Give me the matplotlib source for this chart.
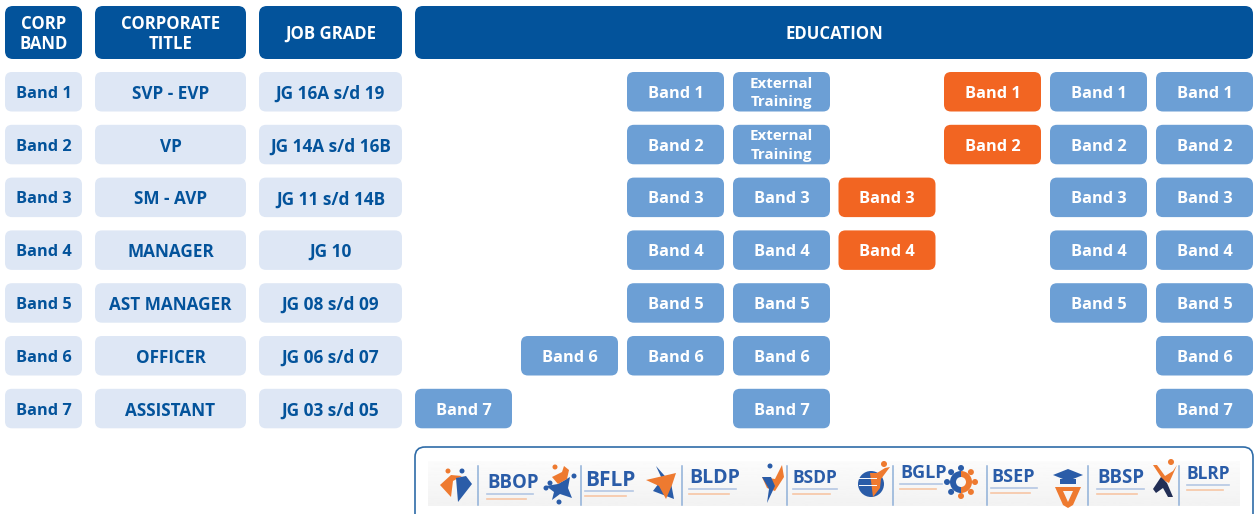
import matplotlib
matplotlib.use("Agg")
import matplotlib.pyplot as plt
import numpy as np
from matplotlib.patches import FancyBboxPatch, Polygon, Circle, Rectangle, Wedge

plt.rcParams['font.family'] = ['Open Sans', 'DejaVu Sans']

corp_bands = ["Band 1", "Band 2", "Band 3", "Band 4", "Band 5", "Band 6", "Band 7"]
titles = ["SVP - EVP", "VP", "SM - AVP", "MANAGER", "AST MANAGER", "OFFICER", "ASSISTANT"]
grades = ["JG 16A s/d 19", "JG 14A s/d 16B", "JG 11 s/d 14B", "JG 10", "JG 08 s/d 09", "JG 06 s/d 07", "JG 03 s/d 05"]
headers = ["CORP\nBAND", "CORPORATE\nTITLE", "JOB GRADE", "EDUCATION"]
ext = "External\nTraining"
# education columns: band-row index -> label
edu_col0 = {6: "Band 7"}
edu_col1 = {5: "Band 6"}
edu_col2 = {i: corp_bands[i] for i in range(6)}
edu_col3 = {0: ext, 1: ext, 2: "Band 3", 3: "Band 4", 4: "Band 5", 5: "Band 6", 6: "Band 7"}
edu_col4 = {2: "Band 3", 3: "Band 4"}
edu_col5 = {0: "Band 1", 1: "Band 2"}
edu_col6 = {i: corp_bands[i] for i in range(5)}
edu_col7 = {i: corp_bands[i] for i in range(7)}
edu_cols = [edu_col0, edu_col1, edu_col2, edu_col3, edu_col4, edu_col5, edu_col6, edu_col7]
orange_cols = [4, 5]
programs = ["BBOP", "BFLP", "BLDP", "BSDP", "BGLP", "BSEP", "BBSP", "BLRP"]

NAVY, PALE, MID, ORANGE = "#03539B", "#DEE7F5", "#6C9FD5", "#F26522"
LOGO_BLUE, LOGO_OR = "#2A5CA8", "#EE7A30"

W, H = 1254, 514
fig = plt.figure(figsize=(W / 100, H / 100), dpi=100)
ax = fig.add_axes([0, 0, 1, 1])
ax.set_xlim(0, W); ax.set_ylim(H, 0); ax.axis("off")

def box(x0, x1, y0, y1, fc, label, color, size=11.6, r=8, linespacing=1.0, dy=2.0):
    ax.add_patch(FancyBboxPatch((x0 + r, y0 + r), x1 - x0 - 2 * r, y1 - y0 - 2 * r,
                                boxstyle=f"round,pad={r},rounding_size={r}", fc=fc, ec="none"))
    ax.text((x0 + x1) / 2, (y0 + y1) / 2 + dy, label, ha="center", va="center", color=color,
            fontsize=size, fontweight="bold", linespacing=linespacing)

left_cols = [(5, 82), (95, 246), (259, 402)]
edu_x0 = [415, 521, 627, 733, 838.5, 944, 1050, 1156]
edu_w = 97
row_y0, row_pitch, row_h = 72, 52.8, 39.5

for (x0, x1), h in zip(left_cols + [(415, 1253)], headers):
    box(x0, x1, 6, 59, NAVY, h, "white", size=12.1, linespacing=1.14, dy=1.5)

left_sizes = [11.8, 12.3, 12.4]
for (x0, x1), col, sz in zip(left_cols, [corp_bands, titles, grades], left_sizes):
    for i, t in enumerate(col):
        y = row_y0 + i * row_pitch
        box(x0, x1, y, y + row_h, PALE, t, NAVY, size=sz, r=7)

for c, col in enumerate(edu_cols):
    fc = ORANGE if c in orange_cols else MID
    for i, t in col.items():
        y = row_y0 + i * row_pitch
        if t == ext:
            box(edu_x0[c], edu_x0[c] + edu_w, y, y + row_h, fc, t, "white", size=10.9, r=7, linespacing=1.42, dy=1.2)
        else:
            box(edu_x0[c], edu_x0[c] + edu_w, y, y + row_h, fc, t, "white", size=11.8, r=7)

# programme strip
grad = np.linspace(0.985, 0.95, 64).reshape(-1, 1)
ax.imshow(grad, extent=(428, 1240, 506, 461), cmap="gray", vmin=0, vmax=1, aspect="auto", zorder=1)
ax.set_xlim(0, W); ax.set_ylim(H, 0)
ax.add_patch(FancyBboxPatch((425, 457), 818, 70, boxstyle="round,pad=10,rounding_size=10",
                            fc="none", ec="#2F6CA8", lw=1.2, zorder=2))

sep_x = [478, 581, 682, 787, 893, 987, 1088, 1179]
text_x = [487, 585, 689, 793, 900, 991, 1097, 1187]
text_y = [483, 480, 478, 478, 473, 477, 478, 474]
text_size = [13.4, 15.0, 14.0, 12.5, 13.0, 13.0, 13.4, 12.5]
text_w = [46, 48, 47, 44, 42, 46, 47, 42]
icon_x = [456, 560, 663, 773, 873, 961, 1068, 1165]
icon_y = [484, 484, 483, 483, 482, 482, 484, 479]

def icon(k, cx, cy):
    b, o = LOGO_BLUE, LOGO_OR
    P = lambda pts, c: ax.add_patch(Polygon([(cx + a, cy + d) for a, d in pts], fc=c, ec="none", zorder=3))
    C = lambda a, d, r, c: ax.add_patch(Circle((cx + a, cy + d), r, fc=c, ec="none", zorder=3))
    if k == 0:
        C(-8, -13, 2.5, o); C(6, -13, 2.5, b)
        P([(-16, 1), (-5, -9), (6, -8), (-3, -3), (-5, 13)], o); P([(0, -6), (10, -8), (16, 0), (2, 18)], b)
    elif k == 1:
        P([(-14, 2), (-2, 0), (10, -7), (8, 4), (12, 14), (0, 10), (-8, 16), (-6, 8)], b)
        P([(-8, -7), (2, -12), (4, -18), (9, -14), (7, -5), (-2, 0)], o)
        for a, d in [(-14, 4), (-10, -1), (14, -8), (-1, 18), (-5, -17)]:
            C(a, d, 2.5, o if d == -17 else b)
    elif k == 2:
        P([(-10, 8), (-1, -4), (-7, -17), (8, 0), (11, 16)], b)
        P([(-17, -3), (13, -10), (9, 2), (3, 16), (-4, 3)], o)
    elif k == 3:
        C(-3, -17, 2.5, b)
        P([(-11, -6), (2, -4), (9, -18), (11, -6), (2, 8), (-6, 5)], o)
        P([(-11, -6), (-2, -6), (2, 3), (-6, 20), (-4, 6)], b)
    elif k == 4:
        C(-2, 2, 13, b)
        P([(-3, -9), (4, -9), (12, -14), (17, -15), (8, -3), (7, 6), (0, 15)], o); C(11, -18, 3, o)
        for d in (-4, 3):
            ax.plot([cx - 14, cx + 3], [cy + d, cy + d], color="white", lw=0.7, zorder=4)
    elif k == 5:
        for j, ang in enumerate(np.deg2rad(np.arange(0, 360, 45))):
            c = o if j in (0, 1, 2, 7) else b
            C(14 * np.cos(ang), 14 * np.sin(ang), 3, c)
        ax.add_patch(Wedge((cx, cy), 11, -90, 90, width=6, fc=o, ec="none", zorder=3))
        ax.add_patch(Wedge((cx, cy), 11, 90, 270, width=6, fc=b, ec="none", zorder=3))
    elif k == 6:
        P([(-15, -9), (0, -15), (15, -9), (0, -3)], b); P([(-8, -5), (8, -5), (8, 0), (-8, 0)], b)
        P([(-13, 3), (13, 3), (5, 21), (0, 24), (-5, 21)], o); P([(-5, 7), (5, 7), (0, 18)], "#F5F5F5")
    else:
        C(6, -17, 3, o)
        P([(-12, -14), (-8, -14), (0, -3), (8, -8), (12, -14), (4, 4), (-2, 1)], o)
        P([(-12, 10), (-4, -2), (2, 4), (8, 18), (3, 18), (-2, 9), (-9, 14)], "#222E55")

for k, name in enumerate(programs):
    ax.plot([sep_x[k], sep_x[k]], [466, 505], color="#8FB0D8", lw=1.1, zorder=3)
    ax.text(text_x[k], text_y[k], name, ha="left", va="center", color=LOGO_BLUE, fontsize=text_size[k],
            fontweight="bold", zorder=4)
    sub_y = text_y[k] + 11
    ax.plot([text_x[k], text_x[k] + text_w[k]], [sub_y, sub_y], color="#B4C7E3", lw=1.2, zorder=3)
    ax.plot([text_x[k], text_x[k] + text_w[k] * 0.85], [sub_y + 5, sub_y + 5], color="#F7C6A5", lw=1.2, zorder=3)
    icon(k, icon_x[k], icon_y[k])

fig.savefig("out.png", dpi=100)
